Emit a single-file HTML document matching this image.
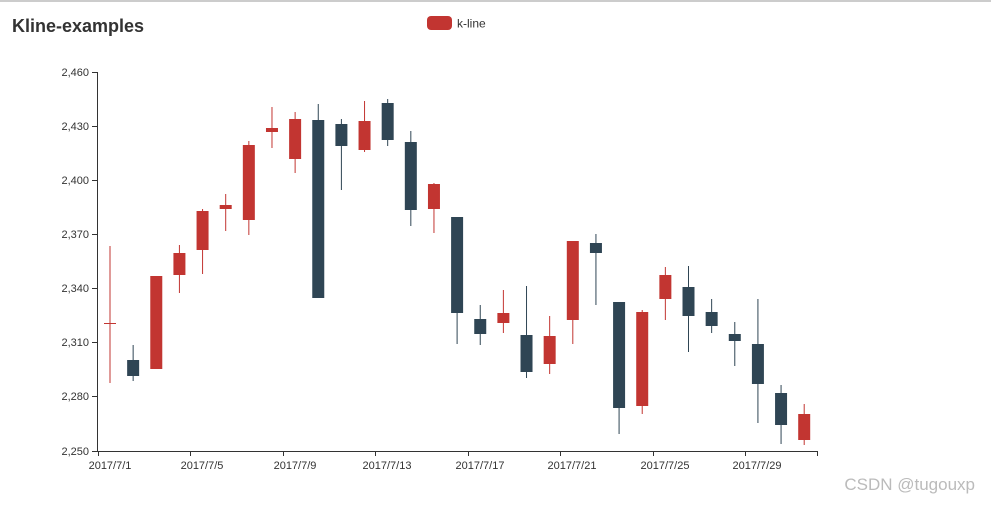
<!DOCTYPE html>
<html><head><meta charset="utf-8"><style>
body{margin:0;background:#fff;width:991px;height:505px;overflow:hidden;font-family:"Liberation Sans",sans-serif}
</style></head><body>
<svg width="991" height="505" xmlns="http://www.w3.org/2000/svg" font-family="Liberation Sans, sans-serif">
<rect x="0" y="0" width="991" height="2" fill="#ccc"/>
<text x="12" y="32" font-size="18" font-weight="bold" fill="#333">Kline-examples</text>
<rect x="427" y="16" width="25" height="14" rx="4" fill="#c23531"/>
<text x="457" y="27.5" font-size="12" fill="#333">k-line</text>
<g font-size="11" fill="#333" text-anchor="end">
<text x="89" y="76">2,460</text><text x="89" y="130">2,430</text><text x="89" y="184">2,400</text>
<text x="89" y="238">2,370</text><text x="89" y="292">2,340</text><text x="89" y="346">2,310</text>
<text x="89" y="400">2,280</text><text x="89" y="455">2,250</text>
</g>
<g stroke="#333" stroke-width="1">
<line x1="97.5" y1="72" x2="97.5" y2="452"/>
<line x1="92" y1="72.5" x2="97" y2="72.5"/><line x1="92" y1="126.5" x2="97" y2="126.5"/>
<line x1="92" y1="180.5" x2="97" y2="180.5"/><line x1="92" y1="234.5" x2="97" y2="234.5"/>
<line x1="92" y1="288.5" x2="97" y2="288.5"/><line x1="92" y1="342.5" x2="97" y2="342.5"/>
<line x1="92" y1="396.5" x2="97" y2="396.5"/><line x1="92" y1="451.5" x2="97" y2="451.5"/>
<line x1="97" y1="451.5" x2="818" y2="451.5"/>
<line x1="98.5" y1="451" x2="98.5" y2="456"/><line x1="190.5" y1="451" x2="190.5" y2="456"/>
<line x1="283.5" y1="451" x2="283.5" y2="456"/><line x1="375.5" y1="451" x2="375.5" y2="456"/>
<line x1="468.5" y1="451" x2="468.5" y2="456"/><line x1="560.5" y1="451" x2="560.5" y2="456"/>
<line x1="653.5" y1="451" x2="653.5" y2="456"/><line x1="745.5" y1="451" x2="745.5" y2="456"/>
<line x1="817.5" y1="451" x2="817.5" y2="456"/>
</g>
<g font-size="11" fill="#333" text-anchor="middle">
<text x="110" y="469">2017/7/1</text><text x="202" y="469">2017/7/5</text><text x="295" y="469">2017/7/9</text>
<text x="387" y="469">2017/7/13</text><text x="480" y="469">2017/7/17</text><text x="572" y="469">2017/7/21</text>
<text x="665" y="469">2017/7/25</text><text x="757" y="469">2017/7/29</text>
</g>
<g id="c"></g>
<text x="975" y="490" font-size="17" fill="#bbb" text-anchor="end">CSDN @tugouxp</text>
</svg>
<script>
var d=[[1,323,324,246,383],[0,360,376,345,381],[1,276,369,276,369],[1,253,275,245,293],[1,211,250,209,274],[1,205,209,194,231],[1,145,220,141,235],[1,128,132,107,148],[1,119,159,112,173],[0,120,298,104,298],[0,124,146,119,190],[1,121,150,101,152],[0,103,140,99,146],[0,142,210,131,226],[1,184,209,183,233],[0,217,313,217,344],[0,319,334,305,345],[1,313,323,290,333],[0,335,372,286,378],[1,336,364,316,374],[1,241,320,241,344],[0,243,253,234,305],[0,302,408,302,434],[1,312,406,310,414],[1,275,299,267,320],[0,287,316,266,352],[0,312,326,299,333],[0,334,341,322,366],[0,344,384,299,423],[0,393,425,385,444],[1,414,440,404,445]];
var s='';d.forEach(function(c,i){var x=110+i*23.14,col=c[0]?'#c23531':'#2f4554';
s+='<line x1="'+x+'" x2="'+x+'" y1="'+c[3]+'" y2="'+c[4]+'" stroke="'+col+'" stroke-width="1"/>';
s+='<rect x="'+(x-6)+'" y="'+c[1]+'" width="12" height="'+Math.max(1,c[2]-c[1])+'" fill="'+col+'"/>';});
document.getElementById('c').innerHTML=s;
</script>
</body></html>
